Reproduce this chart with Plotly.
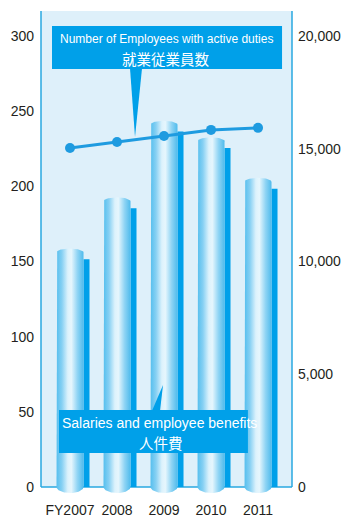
import numpy as np
import plotly.graph_objects as go

years = ["FY2007", "2008", "2009", "2010", "2011"]
salaries = [156, 190, 241, 230, 203]          # left axis
employees = [15040, 15300, 15570, 15840, 15930]  # right axis

FONT = "Liberation Sans, Arial, sans-serif"
CJK = "Noto Sans CJK JP, sans-serif"
BLUE = "#00a0e9"
LINE_BLUE = "#1e9be0"
BG = "#def0fa"
TXT = "#231f20"

Y_MAX = 316.7
Y_MIN = -4.66
R_SCALE = 20000 / 300

HW = 0.287          # half width of cylinder (x units)
RY_TOP = 2.7        # cap ellipse radius (y units)
RY_BOT = 4.0
SH_W = 0.128
SH_DROP = 4.5

fig = go.Figure()

# shadow bars
fig.add_trace(go.Bar(
    x=list(range(len(years))), y=[v - SH_DROP for v in salaries],
    width=SH_W, offset=HW, marker=dict(color=BLUE, line=dict(width=0)),
    hoverinfo="skip", showlegend=False))

cscale = [[0, "#56bfee"], [0.2, "#86d0f3"], [0.42, "#dcf2fc"], [0.55, "#e6f6fd"],
          [0.78, "#8fd4f4"], [1, "#4fbbec"]]
for i, v in enumerate(salaries):
    t1 = np.linspace(np.pi, 0, 40)
    t2 = np.linspace(0, -np.pi, 40)
    xs = np.concatenate([[i - HW], i + HW * np.cos(t1), [i + HW], i + HW * np.cos(t2)])
    ys = np.concatenate([[0], v + RY_TOP * np.sin(t1), [0], RY_BOT * np.sin(t2)])
    fig.add_trace(go.Scatter(
        x=xs, y=ys, mode="lines", fill="toself",
        fillgradient=dict(type="horizontal", colorscale=cscale),
        line=dict(width=0), hoverinfo="skip", showlegend=False))

fig.add_trace(go.Scatter(
    x=list(range(len(years))), y=employees, yaxis="y2", mode="lines+markers",
    line=dict(color=LINE_BLUE, width=3), marker=dict(size=10, color=LINE_BLUE),
    hoverinfo="skip", showlegend=False))

shapes = [
    dict(type="rect", xref="paper", yref="y", x0=0, x1=1, y0=0, y1=Y_MAX,
         fillcolor=BG, line=dict(width=0), layer="below"),
    dict(type="line", xref="paper", yref="y", x0=0, x1=1, y0=0, y1=0,
         line=dict(color="#29a8e0", width=1.5), layer="below"),
    dict(type="line", xref="paper", yref="y", x0=0, x1=0, y0=0, y1=Y_MAX,
         line=dict(color="#29a8e0", width=1.5), layer="below"),
    dict(type="line", xref="paper", yref="y", x0=1, x1=1, y0=0, y1=Y_MAX,
         line=dict(color="#29a8e0", width=1.5), layer="below"),
    # callout 1
    dict(type="rect", xref="x", yref="y", x0=-0.383, x1=4.511, y0=278.1, y1=306.7,
         fillcolor=BLUE, line=dict(width=0), layer="above"),
    dict(type="path", xref="x", yref="y", path="M 1.277 278.5 L 1.532 278.5 L 1.383 232.9 Z",
         fillcolor=BLUE, line=dict(width=0), layer="above"),
    # callout 2
    dict(type="rect", xref="x", yref="y", x0=-0.234, x1=3.785, y0=22.6, y1=51.2,
         fillcolor=BLUE, line=dict(width=0), layer="above"),
    dict(type="path", xref="x", yref="y", path="M 1.745 50.8 L 1.915 50.8 L 1.979 67.9 Z",
         fillcolor=BLUE, line=dict(width=0), layer="above"),
]

annotations = [
    dict(x=2.043, y=298.1, xref="x", yref="y", showarrow=False,
         text="Number of Employees with active duties",
         font=dict(family=FONT, size=12, color="white")),
    dict(x=2.032, y=285.4, xref="x", yref="y", showarrow=False,
         text="就業従業員数",
         font=dict(family=CJK, size=14.5, color="white")),
    dict(x=1.904, y=42.6, xref="x", yref="y", showarrow=False,
         text="Salaries and employee benefits",
         font=dict(family=FONT, size=14, color="white")),
    dict(x=1.926, y=29.9, xref="x", yref="y", showarrow=False,
         text="人件費",
         font=dict(family=CJK, size=14.5, color="white")),
]

fig.update_layout(
    width=345, height=517,
    margin=dict(l=41, r=53, t=11, b=23),
    paper_bgcolor="white", plot_bgcolor="white",
    barmode="overlay", showlegend=False,
    shapes=shapes, annotations=annotations,
    xaxis=dict(range=[-0.617, 4.723], tickmode="array", tickvals=list(range(len(years))),
               ticktext=years, showgrid=False, zeroline=False, showline=False,
               tickfont=dict(family=FONT, size=14, color=TXT), ticks="", tickangle=0,
               ticklabelstandoff=6, automargin=False, fixedrange=True),
    yaxis=dict(range=[Y_MIN, Y_MAX], tickmode="array", tickvals=[0, 50, 100, 150, 200, 250, 300],
               showgrid=False, zeroline=False, showline=False, automargin=False,
               tickfont=dict(family=FONT, size=14, color=TXT), ticks="", ticklabelstandoff=6),
    yaxis2=dict(range=[Y_MIN * R_SCALE, Y_MAX * R_SCALE], overlaying="y", side="right",
                tickmode="array", tickvals=[0, 5000, 10000, 15000, 20000], automargin=False,
                tickformat=",", showgrid=False, zeroline=False, showline=False,
                tickfont=dict(family=FONT, size=14, color=TXT), ticks="", ticklabelstandoff=5),
)

fig.write_html("out.html", config={"displayModeBar": False, "staticPlot": True},
               post_script="document.body.style.margin='0';document.body.style.overflow='hidden';")
